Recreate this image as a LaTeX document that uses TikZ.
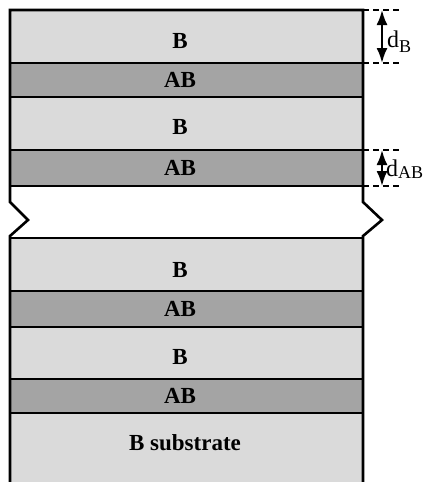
\documentclass[tikz,border=0pt]{standalone}
\usepackage{fontspec}
\setmainfont{Liberation Serif}
\usetikzlibrary{arrows.meta}
\definecolor{bfill}{HTML}{DADADA}
\definecolor{abfill}{HTML}{A4A4A4}
\tikzset{
  layer/.style={anchor=north west, inner sep=0pt, outer sep=0pt, minimum width=353pt},
  blayer/.style={layer, fill=bfill},
  ablayer/.style={layer, fill=abfill},
  edge/.style={line width=2.6pt},
  dimline/.style={line width=2.1pt, dash pattern=on 6pt off 4pt},
  dimarrow/.style={line width=2.1pt, {Latex[length=15pt,width=11pt]}-{Latex[length=15pt,width=11pt]}},
  dimlabel/.style={anchor=base west, inner sep=0pt, font=\fontsize{24}{26}\selectfont}
}
\begin{document}
\begin{tikzpicture}[x=1pt,y=-1pt]
\useasboundingbox (0,0) rectangle (426,482);
% layers
\node[blayer, minimum height=53pt] (b1) at (10,10) {};
\node[ablayer, minimum height=34pt] (ab1) at (10,63) {};
\node[blayer, minimum height=53pt] (b2) at (10,97) {};
\node[ablayer, minimum height=36pt] (ab2) at (10,150) {};
\node[blayer, minimum height=53pt] (b3) at (10,238) {};
\node[ablayer, minimum height=36pt] (ab3) at (10,291) {};
\node[blayer, minimum height=52pt] (b4) at (10,327) {};
\node[ablayer, minimum height=34pt] (ab4) at (10,379) {};
\node[blayer, minimum height=75pt] (sub) at (10,413) {};
% labels
\begin{scope}[every node/.style={font=\fontsize{23}{25}\selectfont\bfseries, inner sep=0pt}]
\node (lb1) at (180,41) {B};
\node (lab1) at (180,80) {AB};
\node (lb2) at (180,127) {B};
\node (lab2) at (180,168) {AB};
\node (lb3) at (180,270) {B};
\node (lab3) at (180,309) {AB};
\node (lb4) at (180,357) {B};
\node (lab4) at (180,396) {AB};
\node (lsub) at (185,443) {B substrate};
\end{scope}
% outline
\coordinate (lz1) at (10,202); \coordinate (lz2) at (28,220); \coordinate (lz3) at (10,236);
\coordinate (rz1) at (363,202); \coordinate (rz2) at (382,220); \coordinate (rz3) at (363,236);
\draw[edge, line join=miter] (10,490) -- (lz3) -- (lz2) -- (lz1) -- (b1.north west) -- (b1.north east) -- (rz1) -- (rz2) -- (rz3) -- (363,490);
\foreach \n in {b1,ab1,b2,ab2,b3,ab3,b4,ab4}
  \draw[edge] (\n.south west) -- (\n.south east);
\draw[edge] (b3.north west) -- (b3.north east);
% dimensions
\coordinate (dbt) at (382,10); \coordinate (dbb) at (382,63);
\coordinate (dat) at (382,150); \coordinate (dab) at (382,186);
\draw[dimline] (b1.north east) -- (399,10);
\draw[dimline] (b1.south east) -- (399,63);
\draw[dimline] (ab2.north east) -- (399,150);
\draw[dimline] (ab2.south east) -- (399,186);
\draw[dimarrow] (dbt) -- (dbb);
\draw[dimarrow] (dat) -- (dab);
\node[dimlabel] (ldb) at (387,47) {d\raisebox{-5pt}{\fontsize{18}{18}\selectfont B}};
\node[dimlabel] (ldab) at (386,176) {d\raisebox{-2pt}{\fontsize{18}{18}\selectfont AB}};
\end{tikzpicture}
\end{document}
